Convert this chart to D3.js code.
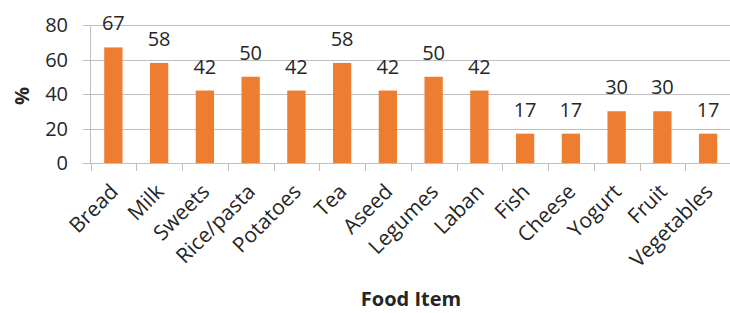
<!DOCTYPE html>
<html><head><meta charset="utf-8">
<script src="https://d3js.org/d3.v7.min.js"></script>
<style>body{margin:0;background:#fff}svg{display:block}</style>
</head><body>
<script>
const categories = ["Bread","Milk","Sweets","Rice/pasta","Potatoes","Tea","Aseed","Legumes","Laban","Fish","Cheese","Yogurt","Fruit","Vegetables"];
const values = [67,58,42,50,42,58,42,50,42,17,17,30,30,17];
const yTicks = [0,20,40,60,80];
const xTitle = "Food Item";
const yTitle = "%";

const W = 730, H = 313;
const m = {left: 90.5, right: 0, top: 25, bottom: 150};
const svg = d3.select("body").append("svg").attr("width", W).attr("height", H);
const font = "'Open Sans', sans-serif";

const x = d3.scaleBand().domain(categories).range([m.left, 731]).paddingInner(0.6).paddingOuter(0.3);
const y = d3.scaleLinear().domain([0, 80]).range([163, 25]);

// gridlines
svg.append("g").selectAll("line").data(yTicks).join("line")
  .attr("x1", m.left - 8).attr("x2", 731)
  .attr("y1", d => Math.round(y(d)) + 0.5).attr("y2", d => Math.round(y(d)) + 0.5)
  .attr("stroke", "#bfbfbf").attr("stroke-width", 1);

// y axis line
svg.append("line").attr("x1", m.left).attr("x2", m.left).attr("y1", y(80)).attr("y2", y(0))
  .attr("stroke", "#bfbfbf");

// x ticks
svg.append("g").selectAll("line").data(d3.range(categories.length + 1)).join("line")
  .attr("x1", i => Math.round(m.left + i * (731 - m.left) / categories.length) + 0.5)
  .attr("x2", i => Math.round(m.left + i * (731 - m.left) / categories.length) + 0.5)
  .attr("y1", y(0)).attr("y2", y(0) + 8)
  .attr("stroke", "#bfbfbf");

// y tick labels
svg.append("g").selectAll("text").data(yTicks).join("text")
  .attr("x", 68).attr("y", d => y(d)).attr("dy", "0.35em")
  .attr("text-anchor", "end").attr("font-family", font).attr("font-size", 20).attr("fill", "#262626")
  .text(d => d);

// bars
svg.append("g").selectAll("rect").data(values).join("rect")
  .attr("x", (d, i) => x(categories[i])).attr("width", x.bandwidth())
  .attr("y", d => y(d)).attr("height", d => y(0) - y(d))
  .attr("fill", "#ed7d31");

// data labels
svg.append("g").selectAll("text").data(values).join("text")
  .attr("x", (d, i) => x(categories[i]) + x.bandwidth() / 2).attr("y", d => y(d) - 17)
  .attr("text-anchor", "middle").attr("font-family", font).attr("font-size", 20).attr("fill", "#262626")
  .text(d => d);

// x labels
svg.append("g").selectAll("text").data(categories).join("text")
  .attr("transform", c => `translate(${x(c) + x.bandwidth()/2 + 6},${193}) rotate(-45)`)
  .attr("text-anchor", "end").attr("font-family", font).attr("font-size", 21).attr("fill", "#262626")
  .text(c => c);

// titles
svg.append("text").attr("x", 411).attr("y", 306).attr("text-anchor", "middle")
  .attr("font-family", font).attr("font-weight", "bold").attr("font-size", 20).attr("fill", "#262626")
  .text(xTitle);
svg.append("text").attr("transform", "translate(29,96) rotate(-90)").attr("text-anchor", "middle")
  .attr("font-family", font).attr("font-weight", "bold").attr("font-size", 20).attr("fill", "#262626")
  .text(yTitle);
</script>
</body></html>
